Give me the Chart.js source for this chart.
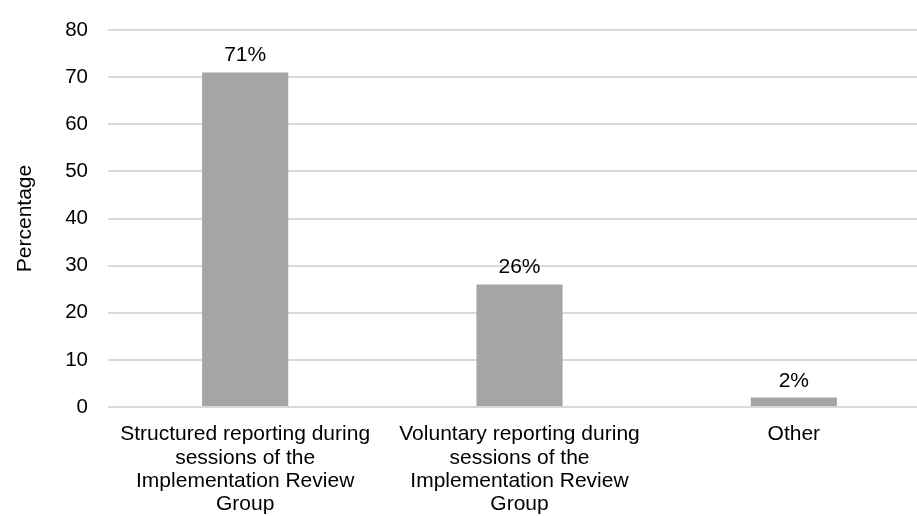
<!DOCTYPE html>
<html>
<head>
<meta charset="utf-8">
<script src="https://cdn.jsdelivr.net/npm/chart.js@4/dist/chart.umd.min.js"></script>
<style>
  html, body { margin: 0; padding: 0; background: #fff; overflow: hidden; }
  #wrap { position: relative; width: 931px; height: 516px; }
</style>
</head>
<body>
<div id="wrap"><canvas id="reportChart"></canvas></div>
<script>
const categories = [
  ["Structured reporting during", "sessions of the", "Implementation Review", "Group"],
  ["Voluntary reporting during", "sessions of the", "Implementation Review", "Group"],
  ["Other"]
];
const percentages = [71, 26, 2];
const yTicks = [0, 10, 20, 30, 40, 50, 60, 70, 80];

const FONT = "'Liberation Sans', Arial, sans-serif";

// writes "NN%" above each bar
const valueLabels = {
  id: "valueLabels",
  afterDatasetsDraw(chart) {
    const ctx = chart.ctx;
    const meta = chart.getDatasetMeta(0);
    ctx.save();
    ctx.font = "21px " + FONT;
    ctx.fillStyle = "#000";
    ctx.textAlign = "center";
    ctx.textBaseline = "alphabetic";
    meta.data.forEach((bar, i) => {
      ctx.fillText(percentages[i] + "%", bar.x, bar.y - 11);
    });
    ctx.restore();
  }
};

document.addEventListener("DOMContentLoaded", function () {
  const ctx = document.getElementById("reportChart").getContext("2d");

  new Chart(ctx, {
    type: "bar",
    data: {
      labels: categories,
      datasets: [{
        data: percentages,
        backgroundColor: "#a5a5a5",
        borderWidth: 0,
        categoryPercentage: 1,
        barPercentage: 0.314
      }]
    },
    options: {
      responsive: true,
      maintainAspectRatio: false,
      animation: false,
      layout: { padding: { top: 30, left: 0, right: 0, bottom: 0 } },
      plugins: {
        legend: { display: false },
        tooltip: { enabled: false }
      },
      scales: {
        y: {
          min: 0,
          max: 80,
          afterBuildTicks: (axis) => { axis.ticks = yTicks.map(v => ({ value: v })); },
          afterFit: (axis) => { axis.width = 108; },
          // invisible tick marks keep the labels 20px off the plot
          grid: { color: "#d9d9d9", lineWidth: 2, drawTicks: true, tickLength: 12, tickColor: "rgba(0,0,0,0)" },
          border: { display: false },
          ticks: {
            color: "#000",
            padding: 8,
            font: { family: FONT, size: 20.5 }
          },
          title: {
            display: true,
            text: "Percentage",
            color: "#000",
            font: { family: FONT, size: 21 },
            padding: { top: 13, bottom: 0 }
          }
        },
        x: {
          afterFit: (axis) => { axis.height = 109; },
          grid: { display: false, drawTicks: false },
          border: { display: false },
          ticks: {
            color: "#000",
            padding: 16,
            maxRotation: 0,
            autoSkip: false,
            font: { family: FONT, size: 21, lineHeight: 1.11 }
          }
        }
      }
    },
    plugins: [valueLabels]
  });
});
</script>
</body>
</html>
